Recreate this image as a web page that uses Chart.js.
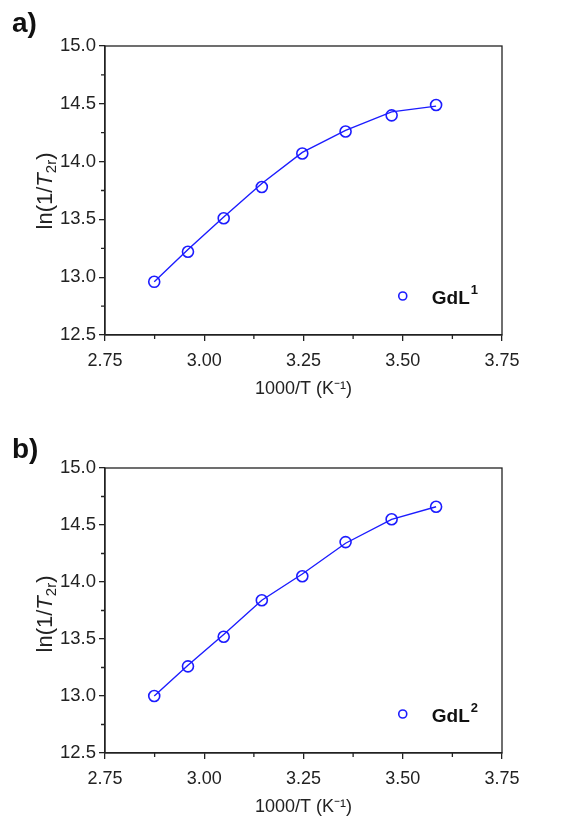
<!DOCTYPE html>
<html>
<head>
<meta charset="utf-8">
<script src="https://cdn.jsdelivr.net/npm/chart.js@4"></script>
<style>
  body { margin:0; background:#fff; width:572px; height:818px; position:relative; overflow:hidden;
         font-family:"Liberation Sans", Arial, sans-serif; }
  .panel { position:absolute; left:0; width:572px; }
  .tag { position:absolute; left:12px; font-weight:bold; font-size:28px; color:#111; }
  .ytitle { position:absolute; font-size:22px; color:#222; white-space:nowrap;
            transform:translate(-50%,-50%) rotate(-90deg); }
  .ytitle sub { font-size:15px; vertical-align:-4px; }
</style>
</head>
<body>
<div class="panel" style="top:0;height:400px"><canvas id="chartA"></canvas></div>
<div class="panel" style="top:422px;height:396px"><canvas id="chartB"></canvas></div>
<div class="tag" style="top:7px">a)</div>
<div class="tag" style="top:433px">b)</div>
<div class="ytitle" style="left:45px;top:191px">ln(1/<i>T</i><sub>2r</sub>)</div>
<div class="ytitle" style="left:45px;top:614px">ln(1/<i>T</i><sub>2r</sub>)</div>
<script>
// 1000/T values (K^-1)
const invTemp = [2.874, 2.959, 3.049, 3.145, 3.247, 3.356, 3.472, 3.584];
// GdL1 measured and fitted ln(1/T2r)
const gdl1Obs = [12.96, 13.22, 13.51, 13.78, 14.07, 14.26, 14.40, 14.49];
const gdl1Fit = [12.96, 13.24, 13.52, 13.81, 14.08, 14.27, 14.43, 14.48];
// GdL2 measured and fitted ln(1/T2r)
const gdl2Obs = [13.00, 13.26, 13.52, 13.84, 14.05, 14.35, 14.55, 14.66];
const gdl2Fit = [13.00, 13.27, 13.54, 13.84, 14.07, 14.34, 14.55, 14.66];

const xMin = 2.75, xMax = 3.75, xStep = 0.25;
const yMin = 12.5, yMax = 15.0, yStep = 0.5;

const blue = 'rgb(28,28,255)';
const axisColor = '#222';
const font = '"Liberation Sans", Arial, sans-serif';

// box around plot + minor ticks + in-plot legend
const framePlugin = {
  id: 'frame',
  afterDraw(chart) {
    const ctx = chart.ctx, a = chart.chartArea;
    ctx.save();
    ctx.strokeStyle = axisColor;
    ctx.lineWidth = 1.3;
    ctx.strokeRect(a.left, a.top, a.right - a.left, a.bottom - a.top);
    // minor ticks
    const xs = chart.scales.x, ys = chart.scales.y;
    ctx.beginPath();
    for (let v = xMin + xStep / 2; v < xMax; v += xStep) {
      const px = xs.getPixelForValue(v);
      ctx.moveTo(px, a.bottom); ctx.lineTo(px, a.bottom + 4);
    }
    for (let v = yMin + yStep / 2; v < yMax; v += yStep) {
      const py = ys.getPixelForValue(v);
      ctx.moveTo(a.left, py); ctx.lineTo(a.left - 4, py);
    }
    ctx.stroke();
    // legend
    const o = chart.options.plugins.frame;
    const lx = xs.getPixelForValue(3.5), ly = a.bottom - 39;
    ctx.strokeStyle = blue;
    ctx.lineWidth = 1.6;
    ctx.beginPath(); ctx.arc(lx, ly, 4, 0, Math.PI * 2); ctx.stroke();
    ctx.fillStyle = '#111';
    ctx.textBaseline = 'alphabetic';
    ctx.font = 'bold 19px ' + font;
    ctx.fillText(o.name, lx + 29, ly + 8);
    const w = ctx.measureText(o.name).width;
    ctx.font = 'bold 13px ' + font;
    ctx.fillText(o.sup, lx + 29 + w + 1, ly - 2);
    ctx.restore();
  }
};

function makePanel(id, obs, fit, name, sup) {
  const ctx = document.getElementById(id).getContext('2d');
  return new Chart(ctx, {
    type: 'scatter',
    data: {
      datasets: [
        {
          label: 'fit',
          data: invTemp.map((x, i) => ({ x: x, y: fit[i] })),
          showLine: true,
          borderColor: blue,
          borderWidth: 1.4,
          pointRadius: 0,
          tension: 0
        },
        {
          label: name + sup,
          data: invTemp.map((x, i) => ({ x: x, y: obs[i] })),
          showLine: false,
          pointStyle: 'circle',
          pointRadius: 5.5,
          borderColor: blue,
          backgroundColor: 'rgba(0,0,0,0)',
          pointBorderWidth: 1.6
        }
      ]
    },
    options: {
      responsive: true,
      maintainAspectRatio: false,
      animation: false,
      events: [],
      layout: { padding: { top: 46, right: 70, left: 0, bottom: 0 } },
      plugins: {
        legend: { display: false },
        tooltip: { enabled: false },
        frame: { name: name, sup: sup }
      },
      scales: {
        x: {
          type: 'linear',
          min: xMin, max: xMax,
          afterFit: s => { s.height = 65; },
          ticks: {
            stepSize: xStep,
            color: '#222',
            font: { family: font, size: 18 },
            padding: 9,
            maxRotation: 0,
            callback: v => v.toFixed(2)
          },
          grid: { drawOnChartArea: false, tickLength: 6, color: axisColor, lineWidth: 1.3 },
          border: { color: axisColor, width: 1.3 },
          title: {
            display: true,
            text: '1000/T (K\u207B\u00B9)',
            color: '#222',
            font: { family: font, size: 18 },
            padding: { top: 0, bottom: 0 }
          }
        },
        y: {
          type: 'linear',
          min: yMin, max: yMax,
          afterFit: s => { s.width = 105; },
          ticks: {
            stepSize: yStep,
            color: '#222',
            font: { family: font, size: 18.5 },
            padding: 3,
            callback: v => v.toFixed(1)
          },
          grid: { drawOnChartArea: false, tickLength: 6, color: axisColor, lineWidth: 1.3 },
          border: { color: axisColor, width: 1.3 }
        }
      }
    },
    plugins: [framePlugin]
  });
}

makePanel('chartA', gdl1Obs, gdl1Fit, 'GdL', '1');
makePanel('chartB', gdl2Obs, gdl2Fit, 'GdL', '2');
</script>
</body>
</html>
